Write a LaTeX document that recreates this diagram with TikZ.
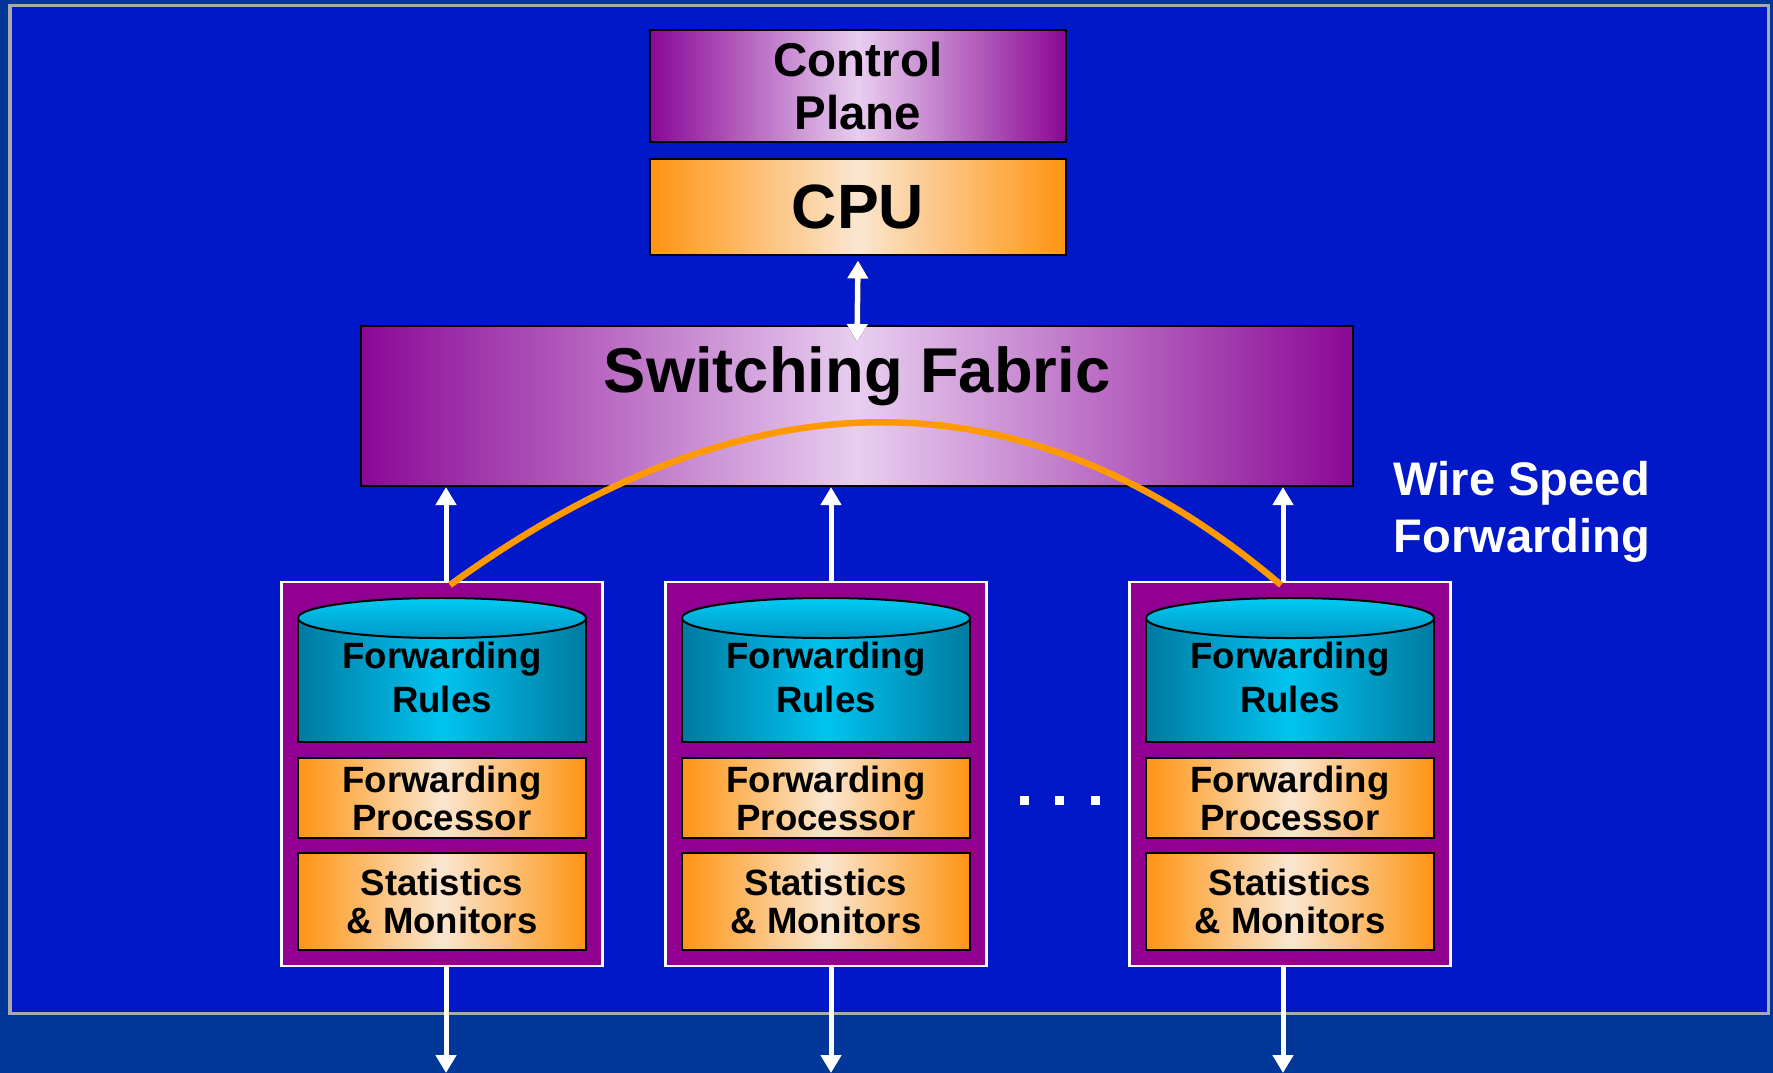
\documentclass[tikz,border=0pt]{standalone}
\usepackage{fontspec}
\setmainfont{Liberation Sans}
\usetikzlibrary{arrows.meta}

\definecolor{slidebg}{RGB}{0,55,152}
\definecolor{panelbg}{RGB}{0,24,200}
\definecolor{framegray}{RGB}{170,170,170}
\definecolor{plumdark}{RGB}{138,8,150}
\definecolor{plumlight}{RGB}{232,206,240}
\definecolor{ambdark}{RGB}{255,148,18}
\definecolor{amblight}{RGB}{250,230,208}
\definecolor{tealdark}{RGB}{0,122,160}
\definecolor{tealmid}{RGB}{0,196,240}
\definecolor{tealtop}{RGB}{0,204,245}
\definecolor{tealbot}{RGB}{0,150,195}
\definecolor{cardpurple}{RGB}{145,0,145}
\definecolor{arcorange}{RGB}{255,153,0}

\newcommand{\cardfont}{\bfseries\fontsize{10.4}{10.8}\selectfont}

\tikzset{
  plumbox/.style={draw=black, line width=0.02cm, left color=plumdark, right color=plumdark, middle color=plumlight, inner sep=0pt},
  ambbox/.style={draw=black, line width=0.02cm, left color=ambdark, right color=ambdark, middle color=amblight, inner sep=0pt},
  card/.style={draw=white, line width=0.025cm, fill=cardpurple, minimum width=3.21cm, minimum height=3.84cm},
  wire/.style={white, line width=0.05cm, -{Triangle[width=0.2cm,length=0.18cm]}},
  link/.style={line width=0.055cm, {Triangle[width=0.2cm,length=0.18cm]}-{Triangle[width=0.2cm,length=0.18cm]}}
}

\begin{document}
\begin{tikzpicture}[x=0.01cm,y=-0.01cm]
	% slide and panel
	\fill[slidebg] (0,0) rectangle (1773,1073);
	\useasboundingbox (0,0) rectangle (1773,1073);
	\draw[framegray, line width=0.03cm, fill=panelbg] (10,6) rectangle (1768,1013);
	
	% control plane and cpu
	\node[plumbox, minimum width=4.15cm, minimum height=1.11cm, align=center, font=\bfseries\fontsize{13.5}{15}\selectfont] (control) at (858,86) {Control\\Plane};
	\node[ambbox, minimum width=4.15cm, minimum height=0.95cm, font=\bfseries\fontsize{17.8}{20}\selectfont] (cpu) at (858,207) {CPU};
	
	% switching fabric
	\node[plumbox, minimum width=9.91cm, minimum height=1.6cm] (fabric) at (857,406) {};
	\node[anchor=base, font=\bfseries\fontsize{18}{21}\selectfont] (fabrictext) at (857,392) {Switching Fabric};
	
	%cpu <-> fabric
	\draw[link, black, xshift=0.025cm, yshift=-0.025cm] ([yshift=-0.05cm]cpu.south) -- ([yshift=-0.17cm]fabric.north);
	\draw[link, white] ([yshift=-0.05cm]cpu.south) -- ([yshift=-0.17cm]fabric.north);
	
	% line cards
	\foreach \i/\x/\dx in {1/442/0.04cm,2/826/0.05cm,3/1290/-0.07cm}{
		\node[card] (card\i) at (\x,774) {};
		% rules drum
		\fill[left color=tealdark, right color=tealdark, middle color=tealmid] (\x-144,618) rectangle (\x+144,742);
		\draw[line width=0.02cm] (\x-144,618) -- (\x-144,742) -- (\x+144,742) -- (\x+144,618);
		\draw[line width=0.02cm, top color=tealtop, bottom color=tealbot] (\x,618) ellipse [x radius=1.44cm, y radius=0.2cm];
		\node[align=center, font=\bfseries\fontsize{10.4}{12.5}\selectfont] (rules\i) at (\x,677) {Forwarding\\Rules};
		\node[ambbox, minimum width=2.88cm, minimum height=0.8cm, align=center, font=\cardfont] (proc\i) at (\x,798) {Forwarding\\Processor};
		\node[ambbox, minimum width=2.88cm, minimum height=0.97cm, align=center, font=\cardfont] (stats\i) at (\x,901.5) {Statistics\\\& Monitors};
		\coordinate (out\i) at (\x,1073);
		\draw[wire] ([xshift=\dx]card\i.north) -- ([xshift=\dx]card\i.north |- fabric.south);
		\draw[wire] ([xshift=\dx]card\i.south) -- ([xshift=\dx]out\i);
	}
	
	% wire speed path over the fabric
	\coordinate (ws1) at (450,585);
	\coordinate (ws3) at (1281,585);
	\draw[arcorange, line width=0.065cm] (ws1) .. controls (749,368) and (1026,368) .. (ws3);
	\node[white, anchor=west, inner sep=0pt, align=left, font=\bfseries\fontsize{13.4}{16.2}\selectfont] (wirespeed) at (1393,512) {Wire Speed\\Forwarding};
	
	% more cards
	\foreach \d in {1024,1059,1095}
	\fill[white] (\d-4.5,795.5) rectangle ++(9,9);
\end{tikzpicture}
\end{document}
